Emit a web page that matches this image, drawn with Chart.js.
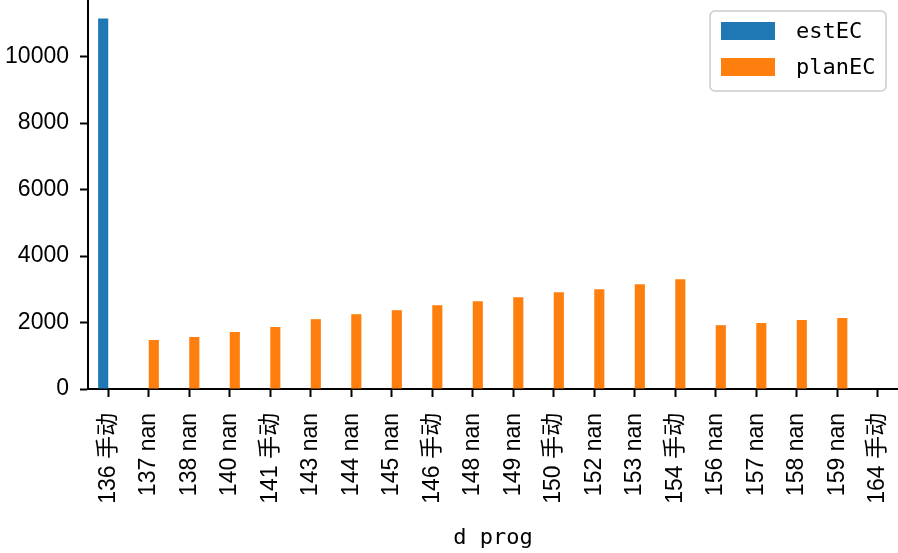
<!DOCTYPE html>
<html>
<head>
<meta charset="utf-8">
<script src="https://cdn.jsdelivr.net/npm/chart.js@4.4.1/dist/chart.umd.min.js"></script>
<style>
  body { margin: 0; background: #fff; }
  #wrap { width: 898px; height: 553px; }
</style>
</head>
<body>
<div id="wrap"><canvas id="ecChart" width="898" height="553"></canvas></div>
<script>
// categories (d prog)
const categories = ['136 手动', '137 nan', '138 nan', '140 nan', '141 手动', '143 nan', '144 nan',
    '145 nan', '146 手动', '148 nan', '149 nan', '150 手动', '152 nan', '153 nan', '154 手动',
    '156 nan', '157 nan', '158 nan', '159 nan', '164 手动'];

// series values
const estEC = [11140, null, null, null, null, null, null, null, null, null, null, null, null,
    null, null, null, null, null, null, null];
const planEC = [null, 1475, 1565, 1715, 1865, 2100, 2250, 2370, 2520, 2640, 2760, 2910, 3000,
    3150, 3300, 1920, 1985, 2075, 2135, null];

// y tick labels
const yTicks = [0, 2000, 4000, 6000, 8000, 10000];

const colors = {
    blue: '#1f77b4',
    orange: '#ff7f0e'
};

const tickFont = { family: "'Liberation Sans', Arial, 'Noto Sans CJK SC'", size: 23 };
const monoFont = "22px 'DejaVu Sans Mono', monospace";

// legend drawn inside the plot, top right, matplotlib-like box
const boxLegend = {
    id: 'boxLegend',
    afterDraw(chart) {
        const ctx = chart.ctx;
        const x = 710, y = 11, w = 176, h = 80, r = 5;
        ctx.save();
        ctx.fillStyle = 'rgba(255,255,255,0.8)';
        ctx.strokeStyle = '#cccccc';
        ctx.lineWidth = 1.5;
        ctx.beginPath();
        ctx.roundRect(x, y, w, h, r);
        ctx.fill();
        ctx.stroke();
        ctx.font = monoFont;
        ctx.textBaseline = 'middle';
        chart.data.datasets.forEach((ds, i) => {
            const cy = 31 + i * 36;
            ctx.fillStyle = ds.backgroundColor;
            ctx.fillRect(721, cy - 9, 54, 18);
            ctx.fillStyle = '#000';
            ctx.fillText(ds.label, 796, cy + 1);
        });
        ctx.restore();
    }
};

const ctx = document.getElementById('ecChart').getContext('2d');
const ecChart = new Chart(ctx, {
    type: 'bar',
    data: {
        labels: categories,
        datasets: [{
            label: 'estEC',
            data: estEC,
            backgroundColor: colors.blue,
            categoryPercentage: 0.5,
            barPercentage: 1.0
        }, {
            label: 'planEC',
            data: planEC,
            backgroundColor: colors.orange,
            categoryPercentage: 0.5,
            barPercentage: 1.0
        }]
    },
    options: {
        responsive: false,
        animation: false,
        layout: { padding: 0 },
        plugins: {
            legend: { display: false },
            tooltip: { enabled: false }
        },
        scales: {
            x: {
                offset: true,
                grid: {
                    drawOnChartArea: false,
                    drawTicks: true,
                    tickLength: 8,
                    tickWidth: 2,
                    tickColor: '#000',
                    offset: false
                },
                border: { color: '#000', width: 2 },
                ticks: {
                    color: '#000',
                    font: tickFont,
                    autoSkip: false,
                    minRotation: 90,
                    maxRotation: 90,
                    padding: 16
                },
                title: {
                    display: true,
                    text: 'd prog',
                    color: '#000',
                    font: { family: "'DejaVu Sans Mono', monospace", size: 22 },
                    padding: { top: 0, bottom: 2 }
                },
                afterFit(scale) {
                    scale.height = 164;
                    scale.paddingLeft = 0;
                    scale.paddingRight = 0;
                }
            },
            y: {
                min: 0,
                max: 11700,
                grid: {
                    drawOnChartArea: false,
                    drawTicks: true,
                    tickLength: 8,
                    tickWidth: 2,
                    tickColor: '#000'
                },
                border: { color: '#000', width: 2 },
                ticks: {
                    color: '#000',
                    font: tickFont,
                    padding: 11,
                    callback: value => String(value)
                },
                afterBuildTicks(scale) {
                    scale.ticks = yTicks.map(v => ({ value: v }));
                },
                afterFit(scale) {
                    scale.width = 88;
                    scale.paddingTop = 0;
                    scale.paddingBottom = 0;
                }
            }
        }
    },
    plugins: [boxLegend]
});
</script>
</body>
</html>
